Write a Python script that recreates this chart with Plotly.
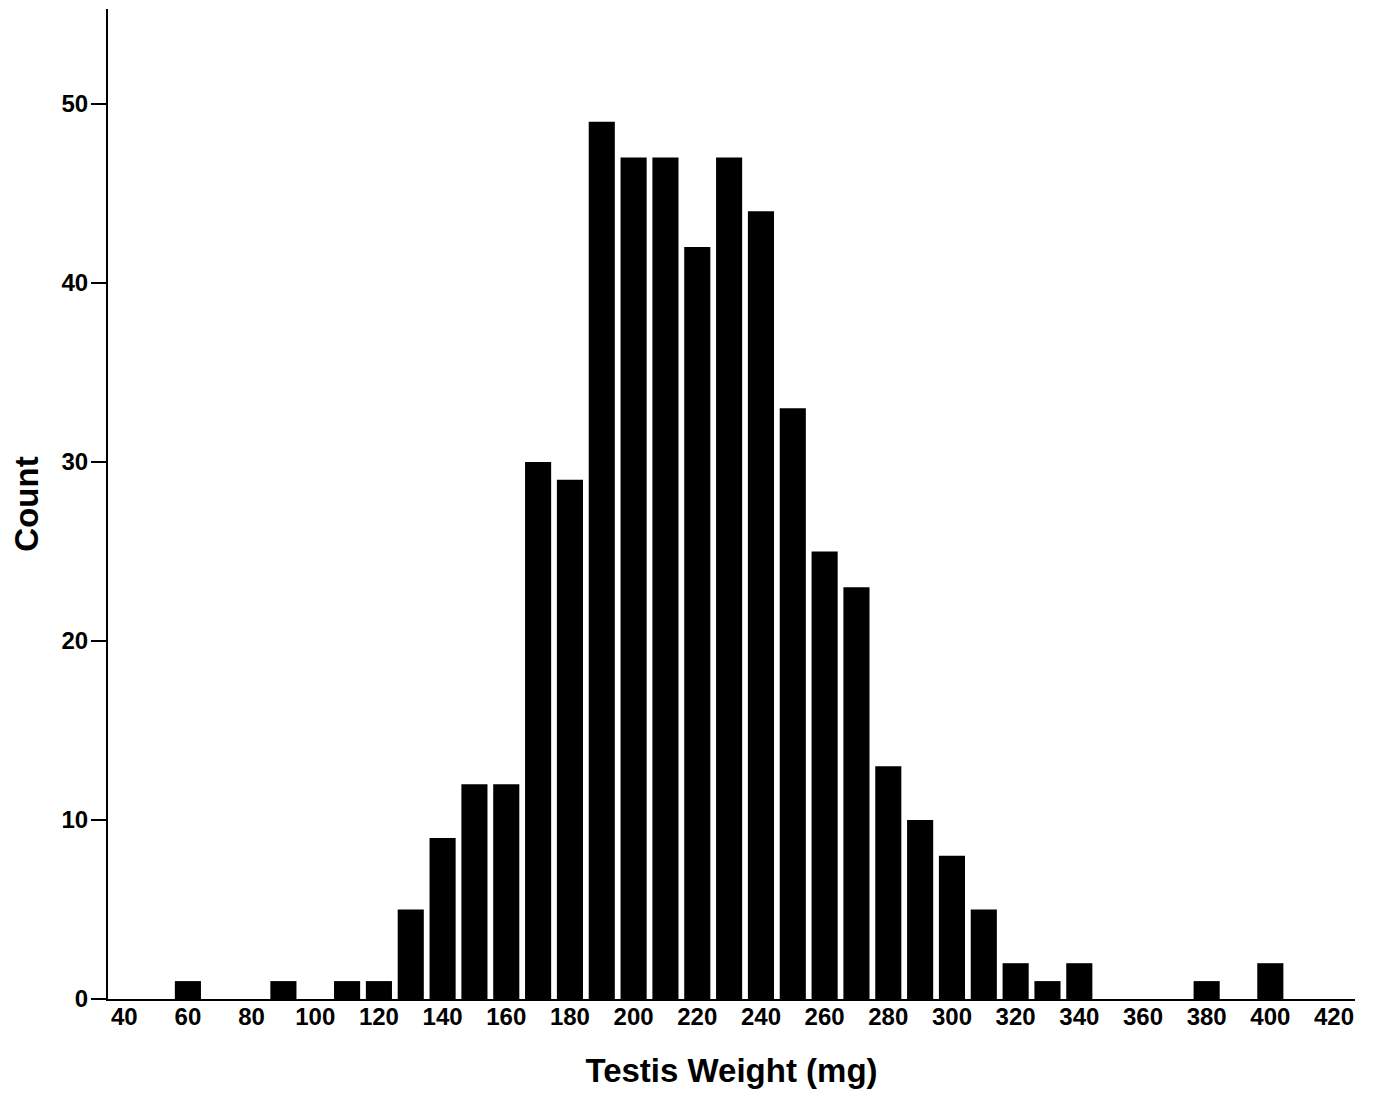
import plotly.graph_objects as go

bin_centers = [60, 90, 110, 120, 130, 140, 150, 160, 170, 180, 190, 200, 210, 220,
               230, 240, 250, 260, 270, 280, 290, 300, 310, 320, 330, 340, 380, 400]
counts = [1, 1, 1, 1, 5, 9, 12, 12, 30, 29, 49, 47, 47, 42,
          47, 44, 33, 25, 23, 13, 10, 8, 5, 2, 1, 2, 1, 2]
x_ticks = list(range(40, 421, 20))
y_ticks = [0, 10, 20, 30, 40, 50]

FONT = "Liberation Sans, Arial, Helvetica, sans-serif"

fig = go.Figure(go.Bar(x=bin_centers, y=counts, marker=dict(color="black", line=dict(width=0))))

fig.update_layout(
    width=1376, height=1094,
    margin=dict(l=100, r=29, t=1, b=103),
    paper_bgcolor="white", plot_bgcolor="white",
    bargap=0.18,
    showlegend=False,
    font=dict(family=FONT, color="black"),
)
fig.update_xaxes(
    range=[34.9, 426.6], tickvals=x_ticks, ticktext=[str(v) for v in x_ticks],
    showline=True, linecolor="black", linewidth=2, showgrid=False, zeroline=False,
    ticks="", ticklabelstandoff=-5, tickfont=dict(size=24, family=FONT, weight="bold"),
    title=dict(text="Testis Weight (mg)", font=dict(size=33, family=FONT, weight="bold"), standoff=30),
)
fig.update_yaxes(
    range=[0, 55.3], tickvals=y_ticks, ticktext=[str(v) for v in y_ticks],
    showline=True, linecolor="black", linewidth=2, showgrid=False, zeroline=False,
    ticks="outside", ticklen=15, tickwidth=2, tickcolor="black",
    ticklabelstandoff=-2, tickfont=dict(size=24, family=FONT, weight="bold"),
    title=dict(text="Count", font=dict(size=33, family=FONT, weight="bold"), standoff=24),
)

fig.write_html("out.html")
